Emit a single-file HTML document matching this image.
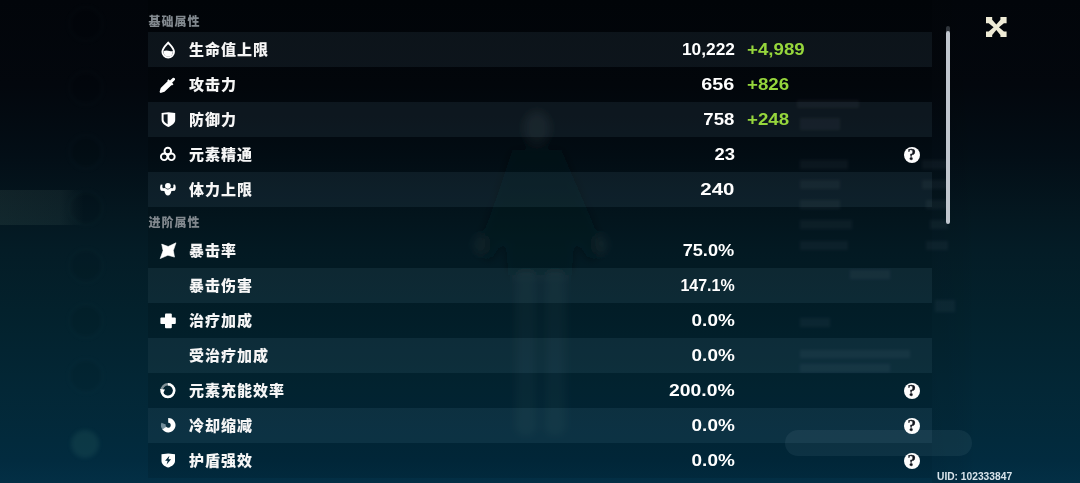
<!DOCTYPE html>
<html lang="zh-CN">
<head>
<meta charset="utf-8">
<title>角色属性</title>
<style>
html,body{margin:0;padding:0;}
body{width:1080px;height:483px;overflow:hidden;background:#02050a;font-family:"Liberation Sans","Noto Sans CJK SC",sans-serif;}
#stage{position:relative;width:1080px;height:483px;overflow:hidden;
 background:linear-gradient(180deg,#02050a 0px,#03070d 85px,#030e16 155px,#041821 220px,#041c26 250px,#03212c 310px,#032736 390px,#022a3c 440px,#022b3f 460px,#032f45 483px);}
#panel{position:absolute;left:148px;top:0;width:784px;height:478px;background:rgba(0,0,0,0.10);}
#panelr{position:absolute;left:932px;top:0;width:44px;height:483px;background:linear-gradient(90deg,rgba(0,0,0,0.07),rgba(0,0,0,0.04) 70%,rgba(0,0,0,0));}
#sel{position:absolute;left:0;top:190px;width:90px;height:35px;background:linear-gradient(90deg,rgba(150,185,160,0.095) 0,rgba(150,185,165,0.075) 60px,rgba(150,180,160,0) 84px);}
.av{position:absolute;left:70px;width:32px;height:32px;border-radius:50%;background:rgba(0,0,0,0.05);box-shadow:0 0 0 2px rgba(150,180,190,0.03);filter:blur(2px);}
#pill{position:absolute;left:785px;top:430px;width:187px;height:26px;border-radius:13px;background:rgba(190,210,220,0.07);}
.row{position:absolute;left:148px;width:784px;height:35px;}
.row.band{background:rgba(165,222,255,0.072);}
.label{position:absolute;left:41px;top:0.5px;height:35px;line-height:34px;font-size:15px;letter-spacing:1px;font-weight:900;color:#f6f6f6;white-space:nowrap;}
.val{position:absolute;right:197.4px;top:1px;height:35px;line-height:34px;font-size:17px;font-weight:700;color:#fff;white-space:nowrap;transform:scaleX(1.1);transform-origin:100% 50%;}
.bonus{position:absolute;left:599px;top:1px;height:35px;line-height:34px;font-size:17px;font-weight:700;color:#96d63c;white-space:nowrap;transform:scaleX(1.1);transform-origin:0 50%;}
.ico{position:absolute;left:152px;width:32px;height:32px;overflow:visible;filter:blur(0.35px);}
.label,.val,.bonus,.head,#uid,.q,#close{filter:blur(0.3px);}
.q{position:absolute;left:755.8px;top:9.6px;width:16px;height:16px;border-radius:50%;background:#fdfdfd;color:#10141c;font-family:"Liberation Serif","Noto Serif CJK SC",serif;font-size:17px;font-weight:700;line-height:16.5px;text-align:center;-webkit-text-stroke:0.3px #10141c;}
.head{position:absolute;left:148.5px;font-size:12px;letter-spacing:1px;color:#81888e;line-height:16px;white-space:nowrap;font-weight:900;}
#sb{position:absolute;left:946px;top:30.5px;width:4.2px;height:193px;background:#c0c6ce;border-radius:2px;}
#sbcap{position:absolute;left:946px;top:25.5px;width:4.2px;height:6px;background:rgba(170,180,190,0.28);border-radius:2px 2px 0 0;}
#close{position:absolute;left:986.3px;top:16.5px;width:20.6px;height:20.6px;}
#uid{position:absolute;left:937px;top:469px;font-size:11px;font-weight:700;color:#d8e4eb;line-height:14px;white-space:nowrap;transform:scaleX(0.93);transform-origin:0 50%;}
</style>
</head>
<body>
<div id="stage">
  <svg id="ghost" width="1080" height="483" viewBox="0 0 1080 483" style="position:absolute;left:0;top:0"><defs><filter id="bl" x="-30%" y="-30%" width="160%" height="160%"><feGaussianBlur stdDeviation="4"/></filter><filter id="bl2" x="-30%" y="-30%" width="160%" height="160%"><feGaussianBlur stdDeviation="1.5"/></filter></defs><g filter="url(#bl2)" fill="rgb(190,205,215)" fill-opacity="0.055"><rect x="797" y="100" width="62" height="8"/><rect x="800" y="118" width="40" height="12"/><rect x="800" y="160" width="48" height="9"/><rect x="922" y="160" width="26" height="9"/><rect x="800" y="180" width="40" height="9"/><rect x="922" y="180" width="26" height="9"/><rect x="800" y="200" width="40" height="9"/><rect x="926" y="200" width="22" height="9"/><rect x="800" y="220" width="52" height="9"/><rect x="930" y="220" width="18" height="9"/><rect x="800" y="241" width="48" height="9"/><rect x="926" y="241" width="22" height="9"/><rect x="850" y="270" width="40" height="9"/><rect x="800" y="318" width="30" height="9"/><rect x="935" y="300" width="20" height="12"/><rect x="800" y="350" width="110" height="8"/><rect x="800" y="364" width="90" height="8"/></g><g filter="url(#bl)"><ellipse cx="537" cy="128" rx="13" ry="17" fill="rgb(70,95,90)" fill-opacity="0.18"/><path d="M512 150 L562 150 L590 215 L604 250 L590 262 L575 240 L572 275 L508 275 L505 240 L490 262 L476 250 L490 215 Z" fill="rgb(10,20,22)" fill-opacity="0.28"/><rect x="516" y="270" width="20" height="165" rx="8" fill="rgb(140,175,175)" fill-opacity="0.05"/><rect x="545" y="270" width="20" height="165" rx="8" fill="rgb(140,175,175)" fill-opacity="0.05"/><ellipse cx="481" cy="245" rx="7" ry="10" fill="rgb(140,170,165)" fill-opacity="0.07"/><ellipse cx="600" cy="245" rx="7" ry="10" fill="rgb(140,170,165)" fill-opacity="0.07"/></g></svg>
  <div id="panel"></div><div id="panelr"></div>
  <div id="sel"></div>
  <div class="av" style="top:8px"></div>
  <div class="av" style="top:72px"></div>
  <div class="av" style="top:136px"></div>
  <div class="av" style="top:192px"></div>
  <div class="av" style="top:250px"></div>
  <div class="av" style="top:305px"></div>
  <div class="av" style="top:360px"></div>
  <div class="av" style="top:430px;left:71px;width:28px;height:28px;top:430px;background:rgba(120,200,170,0.09);box-shadow:none"></div>
  <div id="pill"></div>

  <div class="head" style="top:13.5px">基础属性</div>
  <div class="row band" style="top:32px"><span class="label">生命值上限</span><span class="val" style="transform:scaleX(1.02)">10,222</span><span class="bonus">+4,989</span></div>
  <div class="row" style="top:67px"><span class="label">攻击力</span><span class="val" style="transform:scaleX(1.165)">656</span><span class="bonus">+826</span></div>
  <div class="row band" style="top:102px"><span class="label">防御力</span><span class="val" style="transform:scaleX(1.095)">758</span><span class="bonus">+248</span></div>
  <div class="row" style="top:137px"><span class="label">元素精通</span><span class="val" style="transform:scaleX(1.085)">23</span><span class="q">?</span></div>
  <div class="row band" style="top:172px"><span class="label">体力上限</span><span class="val" style="transform:scaleX(1.2)">240</span></div>
  <div class="head" style="top:214.5px">进阶属性</div>
  <div class="row" style="top:233px"><span class="label">暴击率</span><span class="val" style="transform:scaleX(1.07)">75.0%</span></div>
  <div class="row band" style="top:268px"><span class="label">暴击伤害</span><span class="val" style="transform:scaleX(0.94)">147.1%</span></div>
  <div class="row" style="top:303px"><span class="label">治疗加成</span><span class="val" style="transform:scaleX(1.114)">0.0%</span></div>
  <div class="row band" style="top:338px"><span class="label">受治疗加成</span><span class="val" style="transform:scaleX(1.114)">0.0%</span></div>
  <div class="row" style="top:373px"><span class="label">元素充能效率</span><span class="val" style="transform:scaleX(1.139)">200.0%</span><span class="q">?</span></div>
  <div class="row band" style="top:408px"><span class="label">冷却缩减</span><span class="val" style="transform:scaleX(1.114)">0.0%</span><span class="q">?</span></div>
  <div class="row" style="top:443px"><span class="label">护盾强效</span><span class="val" style="transform:scaleX(1.114)">0.0%</span><span class="q">?</span></div>

  <!-- icons -->
  <svg class="ico" style="top:35px" viewBox="0 0 32 32"><path d="M16.2 7.6 C17.6 9.3 22 13 22 16.8 A5.8 5.8 0 0 1 10.4 16.8 C10.4 13 14.8 9.3 16.2 7.6 Z" fill="none" stroke="#fff" stroke-width="1.9" stroke-linejoin="round"/><path d="M11.6 16 Q14 15 16.2 15.8 T20.8 16 L20.8 17.2 A4.6 4.6 0 0 1 11.6 17.2 Z" fill="#fff"/></svg>
  <svg class="ico" style="top:68px" viewBox="0 0 32 32"><g transform="translate(15.75 16.9) rotate(-44.5)"><path d="M-10.8 0.7 L-10.8 -0.7 L-7.2 -2.7 L2.4 -2.7 L3 -3.5 L4.6 -3.5 L4.6 -1.5 L8.8 -1.5 A1.9 1.9 0 0 1 8.8 1.5 L4.6 1.5 L4.6 3.5 L3 3.5 L2.4 2.7 L-7.2 2.7 Z" fill="#fff"/></g></svg>
  <svg class="ico" style="top:103px" viewBox="0 0 32 32"><path fill-rule="evenodd" d="M9.6 10 L16.4 9.2 L23.2 10 L23.2 17 C23.2 20.4 19.6 22.7 16.4 23.9 C13.2 22.7 9.6 20.4 9.6 17 Z M11.6 11.5 L15.6 11.2 L15.6 21.2 C13.4 20.2 11.6 18.6 11.6 16.8 Z" fill="#fff"/></svg>
  <svg class="ico" style="top:139px" viewBox="0 0 32 32"><g fill="none" stroke="#fff" stroke-width="1.9"><circle cx="15.8" cy="12" r="3.3"/><circle cx="12.2" cy="17.8" r="3.3"/><circle cx="19.4" cy="17.8" r="3.3"/></g></svg>
  <svg class="ico" style="top:173px" viewBox="0 0 32 32"><circle cx="15.9" cy="12.8" r="2.9" fill="#fff"/><path d="M8.8 11.4 C7.8 13.6 7.8 16.2 9 17.8 L12.4 18 C12.7 20.6 14.1 22.5 15.9 22.5 C17.7 22.5 19.1 20.6 19.4 18 L22.8 17.8 C24 16.2 24 13.6 23 11.4 L21.2 11.8 C21.7 13.2 21.5 14.5 20.9 15.3 L18.6 15.1 C17.9 16 17 16.4 15.9 16.4 C14.8 16.4 13.9 16 13.2 15.1 L10.9 15.3 C10.3 14.5 10.1 13.2 10.6 11.8 Z" fill="#fff"/></svg>
  <svg class="ico" style="top:234px" viewBox="0 0 32 32"><path d="M9.7 10.1 L16.2 12.5 L24 8.8 L21.3 16.6 L22.5 23.1 L15.9 21.2 L8.2 24.6 L11.1 16.6 Z" fill="#fff" stroke="#fff" stroke-width="0.6" stroke-linejoin="round"/></svg>
  <svg class="ico" style="top:305px" viewBox="0 0 32 32"><rect x="13" y="8.4" width="6.8" height="14.8" rx="1" fill="#fff"/><rect x="8.4" y="12.6" width="15.4" height="6.4" rx="1" fill="#fff"/></svg>
  <svg class="ico" style="top:374px" viewBox="0 0 32 32"><circle cx="15.9" cy="16.6" r="6.3" fill="none" stroke="#fff" stroke-opacity="0.5" stroke-width="2.4"/><path d="M15.9 10.3 A6.3 6.3 0 1 1 9.6 16.6" fill="none" stroke="#fff" stroke-width="2.5"/><path d="M7.9 15 L13 15.4 L10.6 20 Z" fill="#fff"/></svg>
  <svg class="ico" style="top:409px" viewBox="0 0 32 32"><path d="M16.2 11.3 A4.9 4.9 0 1 1 12.2 19.0" fill="none" stroke="#fff" stroke-width="4.7"/><path d="M12.4 19.3 A4.9 4.9 0 0 1 11.6 14.6" fill="none" stroke="#9fb6c2" stroke-opacity="0.7" stroke-width="4.7"/></svg>
  <svg class="ico" style="top:445px" viewBox="0 0 32 32"><path fill-rule="evenodd" d="M9.5 9.3 L16.2 8.4 L23 9.3 L23 16 C23 19.4 19.5 21.5 16.2 22.6 C12.9 21.5 9.5 19.4 9.5 16 Z M17.4 10.8 L13.1 15.7 L15.7 15.7 L14.6 19.4 L19.1 14.2 L16.5 14.2 Z" fill="#fff"/></svg>

  <div id="sbcap"></div><div id="sb"></div>
  <svg id="close" viewBox="0 0 20 20"><g fill="#efebd6"><path d="M0 0 L6 0 L6 2.6 L10 7.4 L14 2.6 L14 0 L20 0 L20 6 L17.4 6 L12.6 10 L17.4 14 L20 14 L20 20 L14 20 L14 17.4 L10 12.6 L6 17.4 L6 20 L0 20 L0 14 L2.6 14 L7.4 10 L2.6 6 L0 6 Z"/></g></svg>
  <div id="uid">UID: 102333847</div>
</div>
</body>
</html>
